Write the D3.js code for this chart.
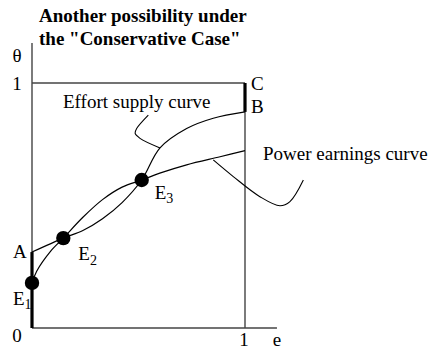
<!DOCTYPE html>
<html>
<head>
<meta charset="utf-8">
<script src="https://cdn.jsdelivr.net/npm/d3@7/dist/d3.min.js"></script>
<style>
  html, body { margin: 0; padding: 0; background: #fff; }
  svg { display: block; }
  text { font-family: "Liberation Serif", "Times New Roman", "DejaVu Serif", serif; }
</style>
</head>
<body>
<svg id="chart" width="434" height="349"></svg>
<script>
// Effort supply curve (S-shaped, from A to B)
const effortE     = [0, 0.147, 0.239, 0.331, 0.423, 0.515, 0.601, 0.726, 0.851, 1];
const effortTheta = [0.31, 0.367, 0.398, 0.446, 0.512, 0.604, 0.735, 0.814, 0.856, 0.882];

// Power earnings curve (concave, through E1, E2, E3)
const powerE     = [0, 0.022, 0.085, 0.147, 0.239, 0.331, 0.423, 0.515, 0.6, 0.726, 0.883, 1];
const powerTheta = [0.184, 0.232, 0.311, 0.367, 0.452, 0.524, 0.575, 0.604, 0.632, 0.666, 0.699, 0.724];

// Equilibria
const eqNames = ["1", "2", "3"];
const eqE     = [0, 0.147, 0.515];
const eqTheta = [0.184, 0.367, 0.604];

// Marked points on the axes
const pointA = 0.31;
const pointB = 0.882;
const pointC = 1;

// Tick labels
const xTickLabels = ["0", "1"];
const yTickLabels = ["0", "1"];

// Leader lines from the curve labels
const effortLeaderE     = [0.546, 0.492, 0.484, 0.507, 0.601];
const effortLeaderTheta = [0.869, 0.815, 0.795, 0.774, 0.735];
const powerLeaderE     = [0.851, 0.945, 1.070, 1.164, 1.211, 1.274];
const powerLeaderTheta = [0.686, 0.618, 0.536, 0.499, 0.516, 0.604];

const svg = d3.select("#chart");
const x = d3.scaleLinear().domain([0, 1]).range([32, 245]);
const y = d3.scaleLinear().domain([0, 1]).range([328, 83]);

const zip = (a, b) => a.map((v, i) => [v, b[i]]);
const lineCR = d3.line().x(d => x(d[0])).y(d => y(d[1])).curve(d3.curveCatmullRom.alpha(0.5));

const axisColor = "#444";

// Axes
svg.append("line").attr("x1", x(0)).attr("x2", x(0)).attr("y1", y(0)).attr("y2", y(1.163))
  .attr("stroke", axisColor).attr("stroke-width", 1.4);
svg.append("line").attr("x1", x(0)).attr("x2", x(1.15)).attr("y1", y(0)).attr("y2", y(0))
  .attr("stroke", axisColor).attr("stroke-width", 1.4);
// Box: theta = 1 and e = 1
svg.append("line").attr("x1", x(0)).attr("x2", x(1)).attr("y1", y(1)).attr("y2", y(1))
  .attr("stroke", axisColor).attr("stroke-width", 1.4);
svg.append("line").attr("x1", x(1)).attr("x2", x(1)).attr("y1", y(1)).attr("y2", y(0))
  .attr("stroke", axisColor).attr("stroke-width", 1.4);

// Thick segments 0–A and B–C
svg.append("line").attr("x1", x(0)).attr("x2", x(0)).attr("y1", y(0)).attr("y2", y(pointA))
  .attr("stroke", "#000").attr("stroke-width", 3.2);
svg.append("line").attr("x1", x(1)).attr("x2", x(1)).attr("y1", y(pointB)).attr("y2", y(pointC))
  .attr("stroke", "#000").attr("stroke-width", 3.2);

// Curves
svg.append("path").attr("d", lineCR(zip(effortE, effortTheta)))
  .attr("fill", "none").attr("stroke", "#000").attr("stroke-width", 1.2);
svg.append("path").attr("d", lineCR(zip(powerE, powerTheta)))
  .attr("fill", "none").attr("stroke", "#000").attr("stroke-width", 1.2);

// Leaders
svg.append("path").attr("d", lineCR(zip(effortLeaderE, effortLeaderTheta)))
  .attr("fill", "none").attr("stroke", "#000").attr("stroke-width", 1.1);
svg.append("path").attr("d", lineCR(zip(powerLeaderE, powerLeaderTheta)))
  .attr("fill", "none").attr("stroke", "#000").attr("stroke-width", 1.1);

// Equilibrium dots
svg.selectAll("circle.eq").data(zip(eqE, eqTheta)).join("circle")
  .attr("class", "eq")
  .attr("cx", d => x(d[0])).attr("cy", d => y(d[1])).attr("r", 7.2).attr("fill", "#000");

// Text helpers
const fs = 19;
function label(txt, px, py, opts = {}) {
  return svg.append("text").attr("x", px).attr("y", py)
    .attr("font-size", opts.size || fs)
    .attr("font-weight", opts.weight || "normal")
    .attr("text-anchor", opts.anchor || "start")
    .attr("fill", "#000").text(txt);
}

// Title
label("Another possibility under", 39, 22, { weight: "bold", size: 19 });
label("the \"Conservative Case\"", 39, 44.5, { weight: "bold", size: 19 });

// Axis labels
label("θ", x(0) - 15, 62, { anchor: "middle" });
label(yTickLabels[1], x(0) - 15, y(1) + 7, { anchor: "middle" });
label(yTickLabels[0], x(0) - 15, y(0) + 13.5, { anchor: "middle" });
label(xTickLabels[1], x(1) - 1, y(0) + 18, { anchor: "middle" });
label("e", x(1.15), y(0) + 18, { anchor: "middle" });

// Point labels
label("A", x(0) - 19, y(pointA) + 6);
label("B", x(1) + 6, y(pointB) + 1);
label("C", x(1) + 6, y(pointC) + 7);

// Equilibrium labels with subscripts
const eqLabelPos = [[-19, 22], [15, 22], [13, 18.5]];
eqNames.forEach((n, i) => {
  const t = svg.append("text")
    .attr("x", x(eqE[i]) + eqLabelPos[i][0])
    .attr("y", y(eqTheta[i]) + eqLabelPos[i][1])
    .attr("font-size", fs).attr("fill", "#000");
  t.append("tspan").text("E");
  t.append("tspan").attr("dy", 4.5).attr("font-size", 14).text(n);
});

// Curve labels
label("Effort supply curve", 63, 108);
label("Power earnings curve", 263, 160);
</script>
</body>
</html>
